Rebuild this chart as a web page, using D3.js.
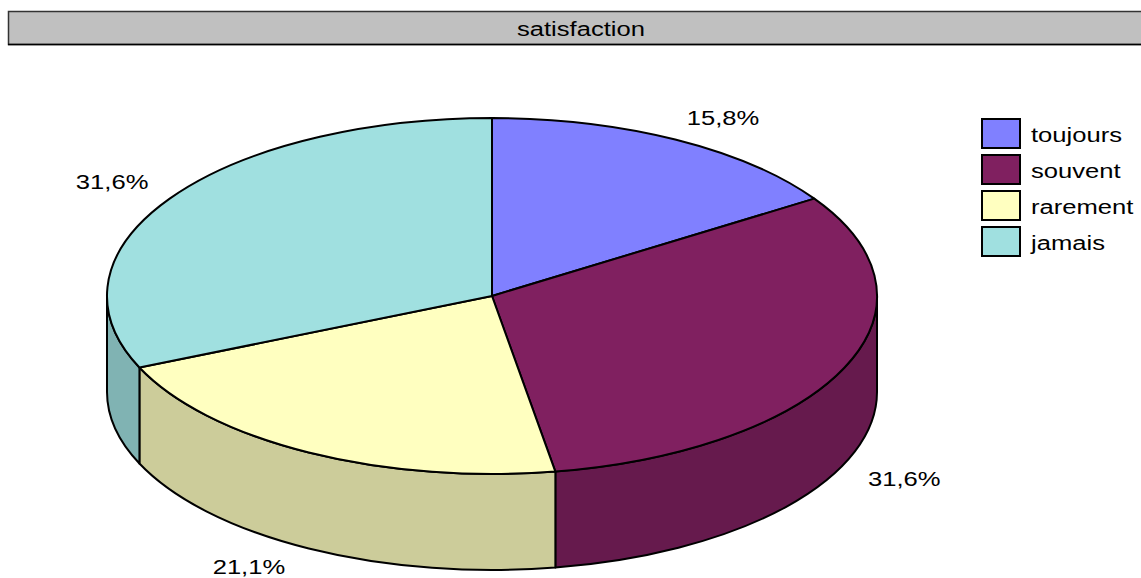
<!DOCTYPE html>
<html>
<head>
<meta charset="utf-8">
<script src="https://cdn.jsdelivr.net/npm/d3@7"></script>
<style>
  html, body { margin: 0; padding: 0; background: #fff; }
  svg { display: block; }
  text { font-family: "Liberation Sans", Arial, sans-serif; fill: #000; }
</style>
</head>
<body>
<svg id="chart" width="1141" height="578"></svg>
<script>
// Survey answers: how often are you satisfied?
const title = "satisfaction";
const categories = ["toujours", "souvent", "rarement", "jamais"];
const counts = [3, 6, 4, 6];
const topColors = ["#8080FF", "#802060", "#FFFFC0", "#A0E0E0"];
const sideColors = ["#6666CC", "#661A4D", "#CCCC9A", "#80B3B3"];

const W = 1141, H = 578;
const svg = d3.select("#chart");

// Pie geometry (tilted disc)
const cx = 492, cy = 296, rx = 385, ry = 178, depth = 96;
const stretch = 1.28; // horizontal stretch of all text

const total = d3.sum(counts);
const pct = d3.format(".1f");
const fmt = v => pct(v / total * 100).replace(".", ",") + "%";

const pie = d3.pie().sort(null).value(d => d).startAngle(0).endAngle(2 * Math.PI);
const arcs = pie(counts);

// angle measured clockwise from 12 o'clock
const px = (a, r = 1) => cx + rx * r * Math.sin(a);
const py = (a, r = 1) => cy - ry * r * Math.cos(a);

function stretchedText(g, x, y, str, anchor) {
  return g.append("text")
    .attr("transform", `translate(${x},${y}) scale(${stretch},1)`)
    .attr("text-anchor", anchor)
    .attr("font-size", 20)
    .text(str);
}

// Title bar
const tb = svg.append("g");
tb.append("rect").attr("x", 8.5).attr("y", 11.5).attr("width", 1140).attr("height", 33)
  .attr("fill", "#C0C0C0").attr("stroke", "#333").attr("stroke-width", 1.5);
tb.append("line").attr("x1", 8).attr("x2", W).attr("y1", 44.5).attr("y2", 44.5)
  .attr("stroke", "#000").attr("stroke-width", 1.5);
stretchedText(tb, 581, 36, title, "middle");

// Side walls: only the front half (90°..270°) is visible
const pieG = svg.append("g");
const lo = Math.PI / 2, hi = 3 * Math.PI / 2;
arcs.forEach((d, i) => {
  const a0 = Math.max(d.startAngle, lo), a1 = Math.min(d.endAngle, hi);
  if (a1 <= a0) return;
  const large = (a1 - a0) > Math.PI ? 1 : 0;
  const top = `M${px(a0)},${py(a0)} A${rx},${ry} 0 ${large} 1 ${px(a1)},${py(a1)}`;
  const down = ` L${px(a1)},${py(a1) + depth}`;
  const bottom = ` A${rx},${ry} 0 ${large} 0 ${px(a0)},${py(a0) + depth} Z`;
  pieG.append("path")
    .attr("d", top + down + bottom)
    .attr("fill", sideColors[i])
    .attr("stroke", "#000").attr("stroke-width", 2).attr("stroke-linejoin", "round");
});

// Top faces
arcs.forEach((d, i) => {
  const a0 = d.startAngle, a1 = d.endAngle;
  const large = (a1 - a0) > Math.PI ? 1 : 0;
  pieG.append("path")
    .attr("d", `M${cx},${cy} L${px(a0)},${py(a0)} A${rx},${ry} 0 ${large} 1 ${px(a1)},${py(a1)} Z`)
    .attr("fill", topColors[i])
    .attr("stroke", "#000").attr("stroke-width", 2).attr("stroke-linejoin", "round");
});

// Percentage labels: the label box's inner corner sits just outside the rim
const labG = svg.append("g");
const halfW = 35, halfH = 10;
arcs.forEach((d, i) => {
  const m = (d.startAngle + d.endAngle) / 2;
  const s = Math.sin(m), c = Math.cos(m);
  let x = px(m, 1.07), y = py(m, 1.07);
  if (c < 0) y += depth;
  x += Math.sign(s) * (s < 0 && c < 0 ? halfW + 12 : halfW);
  y += (c > 0 ? -1 : 1) * halfH;
  y = Math.min(y, H - 11); // keep the label inside the frame
  stretchedText(labG, x, y + 7, fmt(d.value), "middle");
});

// Legend
const legY = d3.scaleBand().domain(categories).range([118, 262]).paddingInner(0);
const leg = svg.append("g");
categories.forEach((c, i) => {
  const y = legY(c);
  leg.append("rect").attr("x", 982).attr("y", y + 1).attr("width", 38).attr("height", 29)
    .attr("fill", topColors[i]).attr("stroke", "#000").attr("stroke-width", 2);
  stretchedText(leg, 1031, y + 24, c, "start");
});
</script>
</body>
</html>
